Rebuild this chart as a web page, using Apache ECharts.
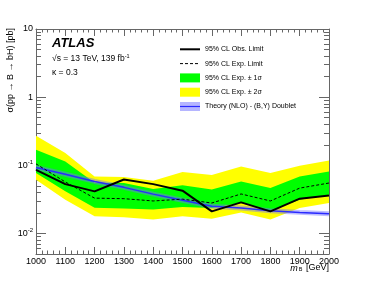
<!DOCTYPE html>
<html><head><meta charset="utf-8">
<script src="https://cdn.jsdelivr.net/npm/echarts@6/dist/echarts.min.js"></script>
<style>html,body{margin:0;padding:0;background:#fff}#c{width:366px;height:283px}</style>
</head><body><div id="c"></div>
<script>
const masses = [1000,1100,1200,1300,1400,1500,1600,1700,1800,1900,2000];
const observed = [0.086,0.053,0.0415,0.062,0.053,0.0425,0.0211,0.0286,0.0211,0.0324,0.0362];
const expected = [0.105,0.057,0.033,0.0324,0.030,0.0319,0.028,0.038,0.030,0.0463,0.055];
const band1Up = [0.169,0.114,0.0556,0.0551,0.045,0.0508,0.044,0.058,0.0466,0.0688,0.0814];
const band1Down = [0.077,0.0415,0.0239,0.0232,0.0224,0.0245,0.0236,0.028,0.0216,0.0313,0.0371];
const band2Up = [0.271,0.151,0.0688,0.0675,0.0595,0.0798,0.0721,0.0964,0.077,0.0987,0.118];
const band2Down = [0.0615,0.0313,0.0179,0.0173,0.016,0.0179,0.0165,0.0204,0.016,0.0237,0.028];
const theory = [0.093,0.074,0.058,0.0475,0.0378,0.0308,0.025,0.0237,0.0216,0.0204,0.0194];
const yMajorTicks = [0.01,0.1,1,10];
const yMinorTicks = [0.005,0.006,0.007,0.008,0.009,0.02,0.03,0.04,0.05,0.06,0.07,0.08,0.09,
  0.2,0.3,0.4,0.5,0.6,0.7,0.8,0.9,2,3,4,5,6,7,8,9];
const yTickLabels = {'0.01':'{b|10}{s|-2}','0.1':'{b|10}{s|-1}','1':'1','10':'10'};

const FONT = 'Liberation Sans';
const frameColor = '#666';
const chart = echarts.init(document.getElementById('c'), null, {renderer:'canvas'});
const pairs = arr => masses.map((m,i)=>[m, arr[i]]);

const xBase = {type:'value', min:1000, max:2000, interval:100,
  splitLine:{show:false},
  axisLine:{show:true, lineStyle:{color:frameColor, width:1}},
  axisTick:{show:true, inside:true, length:7, lineStyle:{color:frameColor}},
  minorTick:{show:true, splitNumber:5, length:3.5, lineStyle:{color:frameColor}}};
const yBase = {type:'log', min:0.005, max:10, splitLine:{show:false}};

function bandSeries(name, up, down, color) {
  return {type:'custom', name:name, coordinateSystem:'cartesian2d', silent:true, z:1, clip:true,
    color:color, data:[[masses[0], up[0]]],
    renderItem:(params, api) => {
      const pts = masses.map((m,i)=>api.coord([m, up[i]]))
        .concat(masses.map((m,i)=>api.coord([m, down[i]])).reverse());
      return {type:'polygon', shape:{points:pts}, style:{fill:color, stroke:null}};
    }};
}

chart.setOption({
  animation:false,
  grid:{left:36, right:37, top:29, bottom:29, containLabel:false},
  xAxis:[
    Object.assign({}, xBase, {position:'bottom',
      axisLabel:{margin:3, fontSize:9, color:'#000', fontFamily:FONT, formatter: v => String(v)}}),
    Object.assign({}, xBase, {position:'top', axisLabel:{show:false}})
  ],
  yAxis:[
    Object.assign({}, yBase, {position:'left',
      axisLine:{show:true, lineStyle:{color:frameColor}},
      axisTick:{show:true, inside:true, length:10, customValues:yMajorTicks, lineStyle:{color:frameColor}},
      axisLabel:{customValues:yMajorTicks, margin:3, color:'#000', fontSize:9, fontFamily:FONT,
        formatter: v => yTickLabels[String(+v)] || String(v),
        rich:{b:{fontSize:9, fontFamily:FONT, color:'#000'}, s:{fontSize:6, fontFamily:FONT, color:'#000', verticalAlign:'top', padding:[0,0,6,0]}}}}),
    Object.assign({}, yBase, {position:'left',
      axisLine:{show:false},
      axisTick:{show:true, inside:true, length:5, customValues:yMinorTicks, lineStyle:{color:frameColor}},
      axisLabel:{show:false}}),
    Object.assign({}, yBase, {position:'right',
      axisLine:{show:true, lineStyle:{color:frameColor}},
      axisTick:{show:true, inside:true, length:10, customValues:yMajorTicks, lineStyle:{color:frameColor}},
      axisLabel:{show:false}}),
    Object.assign({}, yBase, {position:'right',
      axisLine:{show:false},
      axisTick:{show:true, inside:true, length:5, customValues:yMinorTicks, lineStyle:{color:frameColor}},
      axisLabel:{show:false}})
  ],
  legend:{orient:'vertical', left:180, top:44.8, padding:0, itemWidth:20, itemHeight:9, itemGap:5.3,
    selectedMode:false,
    textStyle:{fontSize:7, fontFamily:FONT, color:'#000'},
    data:[
      {name:'95% CL Obs. Limit', icon:'rect', itemStyle:{color:'rgba(0,0,0,0)'}},
      {name:'95% CL Exp. Limit', icon:'rect', itemStyle:{color:'rgba(0,0,0,0)'}},
      {name:'95% CL Exp. \u00b1 1\u03c3', icon:'rect', itemStyle:{color:'#00ff00'}},
      {name:'95% CL Exp. \u00b1 2\u03c3', icon:'rect', itemStyle:{color:'#ffff00'}},
      {name:'Theory (NLO) - (B,Y) Doublet', icon:'rect', itemStyle:{color:'rgba(120,120,255,0.55)'}}
    ]},
  series:[
    bandSeries('95% CL Exp. \u00b1 2\u03c3', band2Up, band2Down, '#ffff00'),
    bandSeries('95% CL Exp. \u00b1 1\u03c3', band1Up, band1Down, '#00ff00'),
    {type:'line', name:'theoryBand', data:pairs(theory), symbol:'none', silent:true, z:2,
      lineStyle:{width:5, color:'rgba(110,110,255,0.45)'}},
    {type:'line', name:'Theory (NLO) - (B,Y) Doublet', data:pairs(theory), symbol:'none', z:3,
      color:'#2a2aff', lineStyle:{width:1.5, color:'#2a2aff'}},
    {type:'line', name:'95% CL Exp. Limit', data:pairs(expected), symbol:'none', z:4,
      color:'#000', lineStyle:{width:1, color:'#000', type:[3,2]}},
    {type:'line', name:'95% CL Obs. Limit', data:pairs(observed), symbol:'none', z:5,
      color:'#000', lineStyle:{width:2, color:'#000'}}
  ],
  graphic:[
    {type:'text', x:52, y:43.5, style:{text:'ATLAS', font:'italic bold 13px "Liberation Sans"', fill:'#000', align:'left', verticalAlign:'middle'}},
    {type:'text', x:52, y:59, style:{text:'{n|\u221as = 13 TeV, 139 fb}{s|-1}', align:'left', verticalAlign:'middle',
      rich:{n:{fontSize:8.5, fontFamily:FONT, fill:'#000', lineHeight:11}, s:{fontSize:5.5, fontFamily:FONT, fill:'#000', verticalAlign:'top', lineHeight:8}}}},
    {type:'text', x:52, y:72.5, style:{text:'\u03ba = 0.3', font:'8.5px "Liberation Sans"', fill:'#000', align:'left', verticalAlign:'middle'}},
    {type:'text', x:11, y:28, rotation:Math.PI/2, style:{text:'\u03c3(pp \u2192 B \u2192 bH) [pb]', font:'9px "Liberation Sans"', fill:'#000', align:'right', verticalAlign:'middle'}},
    {type:'text', x:329, y:268, style:{text:'{i|m}{s|B}{n| [GeV]}', align:'right', verticalAlign:'middle',
      rich:{i:{fontSize:9, fontStyle:'italic', fontFamily:FONT, fill:'#000'}, n:{fontSize:9, fontFamily:FONT, fill:'#000'}, s:{fontSize:5.5, fontFamily:FONT, fill:'#000', verticalAlign:'bottom', padding:[3,1,0,1]}}}},
    {type:'line', shape:{x1:180, y1:49.3, x2:200, y2:49.3}, style:{stroke:'#000', lineWidth:2}, z:100},
    {type:'line', shape:{x1:180, y1:63.6, x2:200, y2:63.6}, style:{stroke:'#000', lineWidth:1, lineDash:[3,2]}, z:100},
    {type:'line', shape:{x1:180, y1:106.5, x2:200, y2:106.5}, style:{stroke:'#2a2aff', lineWidth:1.2}, z:100}
  ]
});
</script></body></html>
